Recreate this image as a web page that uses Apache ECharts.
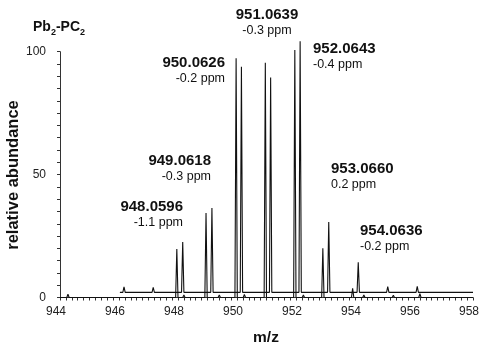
<!DOCTYPE html>
<html><head><meta charset="utf-8">
<script src="https://cdn.jsdelivr.net/npm/echarts@6/dist/echarts.min.js"></script>
<style>html,body{margin:0;padding:0;background:#fff}#c{width:490px;height:350px}</style>
</head><body><div id="c"></div>
<script>
// ---- data (display m/z positions as plotted, relative abundance) ----
const xTicks = [944, 946, 948, 950, 952, 954, 956, 958];
const yTicks = [0, 50, 100];
// experimental trace (baseline 0)
const expMz = [944.27, 945.41, 946.30, 946.92, 947.96, 948.20, 948.95, 949.40, 949.97, 950.25, 950.96, 951.20, 951.96, 952.25, 952.91, 953.20, 953.55, 953.92, 954.30, 955.30, 955.60, 956.20, 956.40, 957.10, 957.30];
const expAb = [1.3, 0.4, 0.6, 0.6, 19.7, 1.0, 34.4, 1.0, 97.3, 1.2, 95.5, 0.8, 100.7, 1.0, 20.0, 0.8, 0.5, 3.7, 1.0, 0.9, 0.5, 1.6, 0.8, 0.5, 0.4];
const expRange = [944.0, 958.0];
// simulated trace (drawn with a vertical offset)
const simMz = [946.17, 947.16, 948.16, 949.15, 950.15, 951.14, 952.14, 953.11, 954.11, 955.11, 956.11];
const simAb = [2.2, 2.0, 20.5, 34.3, 91.8, 87.4, 102.1, 28.6, 12.2, 2.3, 2.4];
const simRange = [946.03, 958.0];
const simOffset = 2.1;
// annotations
const annMass = ['948.0596', '949.0618', '950.0626', '951.0639', '952.0643', '953.0660', '954.0636'];
const annPpm = ['-1.1 ppm', '-0.3 ppm', '-0.2 ppm', '-0.3 ppm', '-0.4 ppm', '0.2 ppm', '-0.2 ppm'];
const yTitle = 'relative abundance';
const xTitle = 'm/z';

const HW = 0.04; // half width of a drawn peak
function buildTrace(mz, ab, range, base) {
  const pts = [[range[0], base]];
  mz.forEach((m, i) => {
    pts.push([m - HW, base]);
    pts.push([m, base + ab[i]]);
    pts.push([m + HW, base]);
  });
  pts.push([range[1], base]);
  return pts;
}

// annotation layout (pixel positions of text blocks)
const annPos = [
  {x: 183, y: 207, align: 'right'},
  {x: 211, y: 161, align: 'right'},
  {x: 225, y: 63, align: 'right'},
  {x: 267, y: 15, align: 'center'},
  {x: 313, y: 49, align: 'left'},
  {x: 331, y: 169, align: 'left'},
  {x: 360, y: 231, align: 'left'}
];
const FONT = 'Liberation Sans, Arial, sans-serif';
const graphics = [];
annMass.forEach((t, i) => {
  const p = annPos[i];
  graphics.push({type: 'text', x: p.x, y: p.y,
    style: {text: t, fill: '#111', font: 'bold 15px ' + FONT, textAlign: p.align, textVerticalAlign: 'middle'}});
  graphics.push({type: 'text', x: p.x, y: p.y + 16,
    style: {text: annPpm[i], fill: '#111', font: '12.5px ' + FONT, textAlign: p.align, textVerticalAlign: 'middle'}});
});
graphics.push({type: 'text', x: 33, y: 18,
  style: {
    text: '{b|Pb}{s|2}{b|-PC}{s|2}',
    rich: {
      b: {font: 'bold 14px ' + FONT, fill: '#111', lineHeight: 16, verticalAlign: 'bottom'},
      s: {font: 'bold 9px ' + FONT, fill: '#111', lineHeight: 16, verticalAlign: 'bottom', padding: [0, 0, -3, 0]}
    }
  }});
graphics.push({type: 'text', x: 13, y: 175, rotation: Math.PI / 2,
  style: {text: yTitle, fill: '#111', font: 'bold 16.5px ' + FONT, textAlign: 'center', textVerticalAlign: 'middle'}});
graphics.push({type: 'text', x: 266, y: 338,
  style: {text: xTitle, fill: '#111', font: 'bold 15.5px ' + FONT, textAlign: 'center', textVerticalAlign: 'middle'}});

const chart = echarts.init(document.getElementById('c'), null, {renderer: 'canvas'});
chart.setOption({
  animation: false,
  backgroundColor: '#fff',
  grid: {left: 60, right: 17, top: 51.7, bottom: 52.5, outerBoundsMode: 'none', containLabel: false},
  xAxis: {
    type: 'value', min: xTicks[0], max: xTicks[xTicks.length - 1], interval: 0.2,
    axisLine: {lineStyle: {color: '#333', width: 1}},
    axisTick: {show: true, length: 3, lineStyle: {color: '#333'}},
    splitLine: {show: false},
    axisLabel: {
      interval: 0, margin: 8, fontFamily: FONT, fontSize: 12, color: '#222', padding: [0, 8, 0, 0],
      formatter: v => { const r = Math.round(v); return (Math.abs(v - r) < 1e-6 && xTicks.includes(r)) ? String(r) : ''; }
    }
  },
  yAxis: {
    type: 'value', min: 0, max: 100, interval: 5,
    axisLine: {show: true, lineStyle: {color: '#333', width: 1}},
    axisTick: {show: true, length: 3, lineStyle: {color: '#333'}},
    splitLine: {show: false},
    axisLabel: {
      margin: 14, fontFamily: FONT, fontSize: 12, color: '#222',
      formatter: v => yTicks.includes(Math.round(v)) && Math.abs(v - Math.round(v)) < 1e-6 ? String(Math.round(v)) : ''
    }
  },
  series: [
    {type: 'line', data: buildTrace(simMz, simAb, simRange, simOffset), symbol: 'none', clip: false,
      lineStyle: {color: '#111', width: 1.1}, z: 3},
    {type: 'line', data: buildTrace(expMz, expAb, expRange, 0), symbol: 'none', clip: false,
      lineStyle: {color: '#111', width: 1.1}, z: 4}
  ],
  graphic: graphics
});
</script></body></html>
